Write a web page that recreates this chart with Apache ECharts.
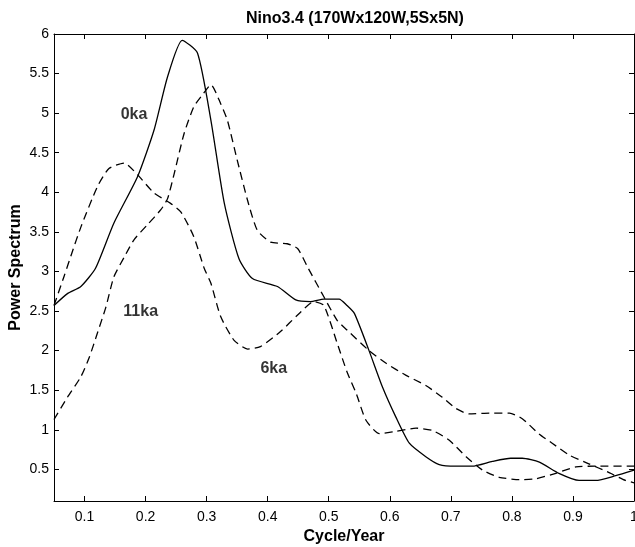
<!DOCTYPE html>
<html>
<head>
<meta charset="utf-8">
<script src="https://cdn.jsdelivr.net/npm/echarts@6/dist/echarts.min.js"></script>
<style>html,body{margin:0;padding:0;background:#fff}#c{width:635px;height:547px}</style>
</head>
<body>
<div id="c"></div>
<script>
var xTicks = [0.1,0.2,0.3,0.4,0.5,0.6,0.7,0.8,0.9,1];
var yTicks = [0.5,1,1.5,2,2.5,3,3.5,4,4.5,5,5.5,6];

var x0ka = [0.05,0.072,0.094,0.118,0.148,0.187,0.214,0.236,0.260,0.285,0.307,0.329,0.353,0.375,0.416,0.446,0.470,0.492,0.517,0.530,0.542,0.566,0.588,0.610,0.632,0.659,0.681,0.708,0.735,0.768,0.798,0.817,0.845,0.877,0.910,0.937,0.970,1.0];
var y0ka = [2.57,2.72,2.81,3.04,3.61,4.20,4.79,5.46,5.92,5.76,4.91,3.86,3.16,2.91,2.81,2.64,2.62,2.65,2.65,2.57,2.47,2.0,1.54,1.16,0.83,0.66,0.56,0.54,0.54,0.60,0.64,0.64,0.59,0.45,0.36,0.36,0.42,0.49];

var x6ka = [0.05,0.067,0.080,0.094,0.121,0.140,0.165,0.187,0.214,0.241,0.258,0.279,0.296,0.307,0.323,0.345,0.367,0.388,0.421,0.449,0.476,0.492,0.514,0.530,0.545,0.561,0.583,0.610,0.643,0.670,0.697,0.725,0.752,0.779,0.812,0.839,0.872,0.905,0.937,1.0];
var y6ka = [2.57,2.95,3.25,3.56,4.07,4.30,4.37,4.22,3.99,3.86,3.75,3.44,3.04,2.85,2.43,2.13,2.02,2.05,2.24,2.45,2.62,2.57,2.09,1.73,1.46,1.12,0.95,0.98,1.02,0.99,0.87,0.66,0.49,0.40,0.37,0.38,0.45,0.53,0.54,0.54];

var x11ka = [0.05,0.072,0.094,0.108,0.121,0.135,0.148,0.165,0.181,0.203,0.225,0.236,0.247,0.263,0.279,0.293,0.307,0.323,0.334,0.350,0.367,0.383,0.405,0.432,0.449,0.465,0.492,0.514,0.530,0.566,0.594,0.626,0.659,0.686,0.708,0.730,0.763,0.796,0.817,0.844,0.866,0.894,0.926,0.956,0.986,1.0];
var y11ka = [1.13,1.41,1.67,1.92,2.22,2.55,2.93,3.18,3.40,3.59,3.78,3.92,4.24,4.74,5.08,5.23,5.36,5.12,4.91,4.41,3.90,3.52,3.37,3.35,3.29,3.06,2.68,2.38,2.26,2.0,1.84,1.69,1.56,1.41,1.27,1.20,1.21,1.21,1.14,0.95,0.83,0.68,0.57,0.47,0.36,0.33];

var labelNames = ['0ka','11ka','6ka'];
var labelX = [0.181,0.192,0.410];
var labelY = [4.98,2.49,1.77];

function pairs(xs, ys){ return xs.map(function(x,i){ return [x, ys[i]]; }); }

var FONT = "'Liberation Sans', Arial, Helvetica, sans-serif";
var chart = echarts.init(document.getElementById('c'), null, {renderer:'canvas'});

function tickAxis(pos, isX, showLabel){
  return {
    type:'value', position: pos,
    min: isX ? 0.05 : 0.1, max: isX ? 1 : 6,
    axisLine:{show:true, onZero:false, lineStyle:{color:'#000', width:1}},
    axisTick:{show:true, inside:true, length:5, customValues: isX ? xTicks : yTicks, lineStyle:{color:'#000'}},
    splitLine:{show:false},
    axisLabel:{show:showLabel, customValues: isX ? xTicks : yTicks, color:'#000', fontSize:14, fontFamily:FONT,
      margin: isX ? 9 : 5, formatter:function(v){ return String(+v.toFixed(2)); }}
  };
}

var xMain = tickAxis('bottom', true, true);
xMain.name = 'Cycle/Year'; xMain.nameLocation = 'middle'; xMain.nameGap = 23;
xMain.nameTextStyle = {color:'#000', fontSize:16, fontWeight:'bold', fontFamily:FONT};
var yMain = tickAxis('left', false, true);
yMain.name = 'Power Spectrum'; yMain.nameLocation = 'middle'; yMain.nameGap = 30;
yMain.nameMoveOverlap = false;
yMain.nameTextStyle = {color:'#000', fontSize:16, fontWeight:'bold', fontFamily:FONT};

var lineBase = {type:'line', symbol:'none', smooth:0.2, xAxisIndex:0, yAxisIndex:0};

chart.setOption({
  animation:false,
  backgroundColor:'#fff',
  title:{text:'Nino3.4 (170Wx120W,5Sx5N)', left:350, textAlign:'center', top:6,
    textStyle:{color:'#000', fontSize:16, fontWeight:'bold', fontFamily:FONT}},
  grid:{left:54, right:1, top:34, bottom:46, containLabel:false, outerBoundsMode:'none'},
  xAxis:[xMain, tickAxis('top', true, false)],
  yAxis:[yMain, tickAxis('right', false, false)],
  series:[
    Object.assign({}, lineBase, {name:'0ka', data:pairs(x0ka,y0ka), lineStyle:{color:'#000', width:1.3, type:'solid'}}),
    Object.assign({}, lineBase, {name:'6ka', data:pairs(x6ka,y6ka), lineStyle:{color:'#000', width:1.3, type:[8,5]}}),
    Object.assign({}, lineBase, {name:'11ka', data:pairs(x11ka,y11ka), lineStyle:{color:'#000', width:1.3, type:[8,5]}}),
    {type:'scatter', symbolSize:0, xAxisIndex:0, yAxisIndex:0, silent:true,
      data: labelNames.map(function(n,i){ return {value:[labelX[i], labelY[i]], name:n}; }),
      label:{show:true, position:'inside', formatter:'{b}', color:'#000', textBorderWidth:0, fontSize:16, fontWeight:'bold', fontFamily:FONT}}
  ]
});
</script>
</body>
</html>
